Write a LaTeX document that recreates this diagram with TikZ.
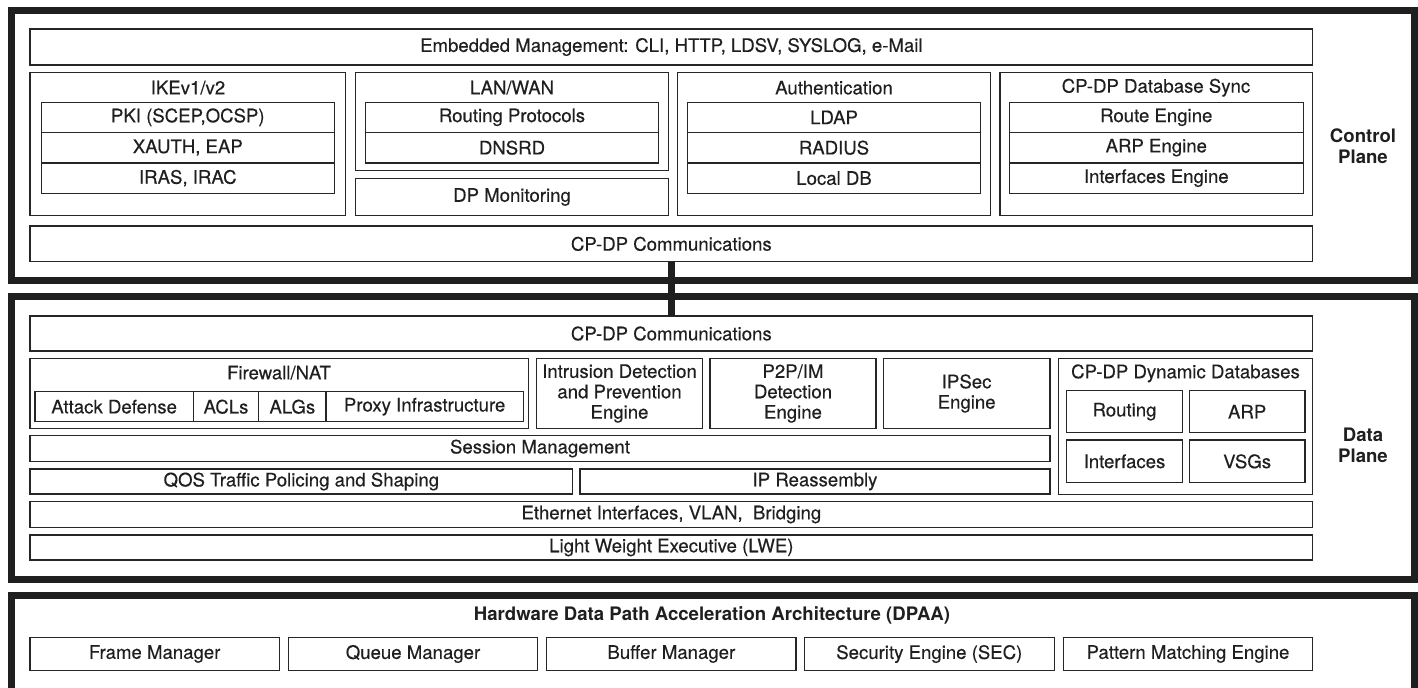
\documentclass[tikz,border=0pt]{standalone}
\usepackage{fontspec}
\setmainfont{TeX Gyre Heros}
\newfontfamily\heavyish[FakeBold=0.35]{TeX Gyre Heros}
\def\unit{0.5pt}
% one box: name, x1, y1, x2, y2 (pixel grid), text
\newcommand\blk[6]{%
  \node[blk, minimum width={(#4-#2)*\unit}, minimum height={(#5-#3)*\unit}]
    (#1) at ({(#2+#4)/2},{(#3+#5)/2}) {#6};}
\newcommand\frm[5]{%
  \node[frame, minimum width={(#4-#2)*\unit}, minimum height={(#5-#3)*\unit}]
    (#1) at ({(#2+#4)/2},{(#3+#5)/2}) {};}

\begin{document}
\begin{tikzpicture}[
    x=\unit, y=-\unit,
    font=\heavyish\fontsize{9.3}{10.2}\selectfont,
    text=black!88,
    blk/.style={
      draw=black!85, line width=0.65pt, rectangle,
      inner sep=0pt, outer sep=0pt, align=center
    },
    frame/.style={
      draw=black!88, line width=3.5pt, rectangle,
      inner sep=0pt, outer sep=0pt
    },
    title/.style={inner sep=0pt, align=center},
    side/.style={inner sep=0pt, align=center, font=\fontsize{9.3}{10.5}\selectfont\bfseries}
  ]
    \useasboundingbox (0,0) rectangle (1418,687);
    \clip (0,0) rectangle (1418,687);

    % control plane
    \frm{cpframe}{11}{10.5}{1414}{280.5}
    \blk{embmgmt}{30}{29}{1312.7}{65}{Embedded Management: CLI, HTTP, LDSV, SYSLOG, e-Mail}

    \blk{ike}{30}{72.7}{345.7}{215.7}{}
    \node[title] (iketitle) at (188,87.7) {IKEv1/v2};
    \blk{pki}{41.3}{102.3}{334.3}{132.3}{PKI (SCEP,OCSP)}
    \blk{xauth}{41.3}{132.3}{334.3}{163}{XAUTH, EAP}
    \blk{iras}{41.3}{163}{334.3}{193.3}{IRAS, IRAC}

    \blk{lanwan}{355.7}{72.7}{668.3}{170.7}{}
    \node[title] (lanwantitle) at (512,87.7) {LAN/WAN};
    \blk{routing}{365.7}{102.3}{658.3}{132.3}{Routing Protocols}
    \blk{dnsrd}{365.7}{132.3}{658.3}{163}{DNSRD}
    \blk{dpmon}{355.7}{178.3}{668.3}{215.7}{DP Monitoring}

    \blk{auth}{677.7}{72.7}{990.7}{215.7}{}
    \node[title] (authtitle) at (834,87.7) {Authentication};
    \blk{ldap}{687.3}{102.3}{980.7}{132.3}{LDAP}
    \blk{radius}{687.3}{132.3}{980.7}{163}{RADIUS}
    \blk{localdb}{687.3}{163}{980.7}{193.3}{Local DB}

    \blk{dbsync}{1000}{72.7}{1312.7}{215.7}{}
    \node[title] (dbsynctitle) at (1156,87.7) {CP-DP Database Sync};
    \blk{routeeng}{1009.3}{102.3}{1303.3}{132.3}{Route Engine}
    \blk{arpeng}{1009.3}{132.3}{1303.3}{163}{ARP Engine}
    \blk{ifeng}{1009.3}{163}{1303.3}{193.3}{Interfaces Engine}

    \blk{cpcomm}{30}{226}{1312.7}{261.7}{CP-DP Communications}
    \node[side] (cplabel) at (1363,146) {Control\\Plane};

    % data plane
    \frm{dpframe}{11}{296.5}{1414}{579}
    \blk{dpcomm}{30}{316}{1312.7}{351}{CP-DP Communications}

    \blk{fwnat}{30}{358.7}{528.7}{428.3}{}
    \node[title] (fwnattitle) at (279,372.7) {Firewall/NAT};
    \blk{attack}{35}{391.7}{193.3}{421.7}{Attack Defense}
    \blk{acls}{193.3}{391.7}{258.7}{421.7}{ACLs}
    \blk{algs}{258.7}{391.7}{326}{421.7}{ALGs}
    \blk{proxy}{326}{391.7}{523.3}{421.7}{Proxy Infrastructure}

    \blk{ids}{536.7}{358.7}{702.3}{428.3}{Intrusion Detection\\and Prevention\\Engine}
    \blk{p2p}{710}{358.7}{876}{428.3}{P2P/IM\\Detection\\Engine}
    \blk{ipsec}{883.3}{358.7}{1050}{428.3}{IPSec\\Engine}

    \blk{dyndb}{1058.3}{358.7}{1312.7}{494.3}{}
    \node[title] (dyndbtitle) at (1185.5,373.3) {CP-DP Dynamic Databases};
    \blk{dbrouting}{1066.7}{390.7}{1182.3}{432.7}{Routing}
    \blk{dbarp}{1189.3}{390.7}{1305}{432.7}{ARP}
    \blk{dbif}{1066.7}{440}{1182.3}{482.7}{Interfaces}
    \blk{dbvsg}{1189.3}{440}{1305}{482.7}{VSGs}

    \blk{session}{30}{435.3}{1050}{461.7}{Session Management}
    \blk{qos}{30}{469}{572.7}{494}{QOS Traffic Policing and Shaping}
    \blk{reasm}{580}{469}{1050}{494}{IP Reassembly}
    \blk{ether}{30}{501.7}{1312.7}{527.3}{Ethernet Interfaces, VLAN,\ \ Bridging}
    \blk{lwe}{30}{535}{1312.7}{560}{Light Weight Executive (LWE)}
    \node[side] (dplabel) at (1363,445) {Data\\Plane};

    % hardware
    \frm{hwframe}{11}{595.5}{1414}{691}
    \node[title, font=\fontsize{9.3}{10}\selectfont\bfseries] (hwtitle) at (712,615) {Hardware Data Path Acceleration Architecture (DPAA)};
    \blk{fman}{30}{637.3}{279.3}{670.7}{Frame Manager}
    \blk{qman}{288.3}{637.3}{537.7}{670.7}{Queue Manager}
    \blk{bman}{546.7}{637.3}{796}{670.7}{Buffer Manager}
    \blk{sec}{804.3}{637.3}{1054.3}{670.7}{Security Engine (SEC)}
    \blk{pme}{1063.3}{637.3}{1312.7}{670.7}{Pattern Matching Engine}

    \draw[draw=black!88, line width=3.5pt] (cpcomm.south) -- (dpcomm.north);
\end{tikzpicture}
\end{document}
